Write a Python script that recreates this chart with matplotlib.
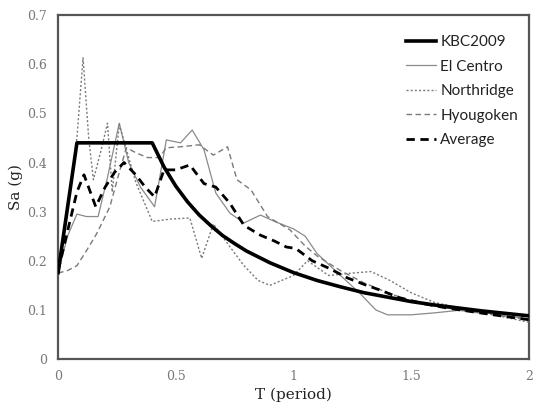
import matplotlib
matplotlib.use("Agg")
import matplotlib.pyplot as plt

# ---- data ----
kbc_T = [0.0, 0.08, 0.40, 0.45, 0.50, 0.55, 0.60, 0.65, 0.70, 0.75, 0.80, 0.90, 1.00,
         1.10, 1.20, 1.30, 1.40, 1.50, 1.60, 1.70, 1.80, 1.90, 2.00]
kbc_Sa = [0.176, 0.44, 0.44, 0.391, 0.352, 0.320, 0.293, 0.271, 0.251, 0.235, 0.220,
          0.196, 0.176, 0.160, 0.147, 0.135, 0.126, 0.117, 0.110, 0.104, 0.098, 0.093, 0.088]

elc_T = [0.0, 0.04, 0.08, 0.12, 0.17, 0.21, 0.26, 0.30, 0.35, 0.41, 0.46, 0.52, 0.57,
         0.62, 0.67, 0.73, 0.79, 0.86, 0.92, 1.00, 1.05, 1.10, 1.20, 1.28, 1.35, 1.40,
         1.50, 1.60, 1.70, 1.80, 1.90, 2.00]
elc_Sa = [0.175, 0.25, 0.295, 0.29, 0.29, 0.37, 0.48, 0.40, 0.35, 0.31, 0.446, 0.44, 0.466,
          0.426, 0.338, 0.297, 0.277, 0.293, 0.28, 0.265, 0.25, 0.215, 0.17, 0.135, 0.10,
          0.09, 0.09, 0.094, 0.099, 0.095, 0.088, 0.082]

nor_T = [0.0, 0.04, 0.08, 0.106, 0.13, 0.15, 0.18, 0.21, 0.23, 0.26, 0.33, 0.40, 0.48,
         0.56, 0.61, 0.66, 0.72, 0.79, 0.85, 0.90, 0.95, 1.00, 1.06, 1.15, 1.25, 1.33,
         1.41, 1.50, 1.60, 1.70, 1.80, 1.90, 2.00]
nor_Sa = [0.175, 0.30, 0.45, 0.613, 0.45, 0.365, 0.42, 0.48, 0.34, 0.477, 0.36, 0.28, 0.285,
          0.287, 0.205, 0.275, 0.235, 0.19, 0.16, 0.15, 0.16, 0.17, 0.20, 0.17, 0.175, 0.178,
          0.16, 0.135, 0.115, 0.105, 0.095, 0.085, 0.075]

hyo_T = [0.0, 0.04, 0.08, 0.12, 0.165, 0.22, 0.26, 0.29, 0.33, 0.38, 0.43, 0.46, 0.52,
         0.60, 0.66, 0.72, 0.76, 0.82, 0.89, 0.985, 1.05, 1.10, 1.20, 1.30, 1.40, 1.50,
         1.60, 1.70, 1.80, 1.90, 2.00]
hyo_Sa = [0.175, 0.18, 0.19, 0.22, 0.256, 0.31, 0.38, 0.43, 0.42, 0.41, 0.41, 0.43, 0.432,
          0.436, 0.415, 0.432, 0.365, 0.344, 0.29, 0.263, 0.23, 0.21, 0.18, 0.155, 0.135,
          0.118, 0.108, 0.10, 0.093, 0.087, 0.08]

avg_T = [0.0, 0.03, 0.06, 0.08, 0.11, 0.16, 0.20, 0.24, 0.28, 0.33, 0.37, 0.41, 0.45, 0.50,
         0.56, 0.62, 0.67, 0.73, 0.79, 0.86, 0.92, 0.97, 1.01, 1.08, 1.15, 1.23, 1.30, 1.37,
         1.45, 1.55, 1.65, 1.75, 1.85, 2.00]
avg_Sa = [0.18, 0.24, 0.30, 0.34, 0.375, 0.31, 0.35, 0.38, 0.40, 0.375, 0.35, 0.33, 0.385,
          0.385, 0.395, 0.357, 0.35, 0.317, 0.272, 0.252, 0.24, 0.228, 0.225, 0.20, 0.185,
          0.165, 0.152, 0.14, 0.125, 0.113, 0.104, 0.097, 0.09, 0.08]

x_ticks = [0, 0.5, 1, 1.5, 2]
x_tick_labels = ["0", "0.5", "1", "1.5", "2"]
y_ticks = [0, 0.1, 0.2, 0.3, 0.4, 0.5, 0.6, 0.7]
y_tick_labels = ["0", "0.1", "0.2", "0.3", "0.4", "0.5", "0.6", "0.7"]

# ---- figure ----
fig = plt.figure(figsize=(5.33, 4.08), dpi=100)
ax = fig.add_axes([0.109, 0.12, 0.883, 0.843])

ax.plot(kbc_T, kbc_Sa, color="black", lw=2.6, label="KBC2009", zorder=5)
ax.plot(elc_T, elc_Sa, color="#8a8a8a", lw=0.9, label="El Centro", zorder=3)
ax.plot(nor_T, nor_Sa, color="#7a7a7a", lw=1.0, linestyle=(0, (1.5, 1.5)),
        label="Northridge", zorder=3)
ax.plot(hyo_T, hyo_Sa, color="#7a7a7a", lw=1.0, linestyle=(0, (4, 2.5)),
        label="Hyougoken", zorder=3)
ax.plot(avg_T, avg_Sa, color="black", lw=2.0, linestyle=(0, (3, 2)),
        label="Average", zorder=4)

ax.set_xlim(0, 2)
ax.set_ylim(0, 0.7)
ax.set_xticks(x_ticks)
ax.set_xticklabels(x_tick_labels)
ax.set_yticks(y_ticks)
ax.set_yticklabels(y_tick_labels)
ax.tick_params(length=0, labelsize=9, labelcolor="#777777", pad=8)
for lab in ax.get_xticklabels() + ax.get_yticklabels():
    lab.set_family("DejaVu Serif")

for sp in ax.spines.values():
    sp.set_color("#555555")
    sp.set_linewidth(1.6)

ax.set_xlabel("T (period)", family="DejaVu Serif", fontsize=11, color="#222222", labelpad=3)
ax.set_ylabel("Sa (g)", family="DejaVu Serif", fontsize=11, color="#222222", labelpad=3)

leg = ax.legend(loc="upper right", frameon=False, handlelength=2.0,
                handletextpad=0.25, labelspacing=0.68, borderaxespad=0.3,
                bbox_to_anchor=(1.0, 0.972),
                prop={"family": "Lato", "size": 11})
for t in leg.get_texts():
    t.set_color("#222222")

fig.savefig("out.png", dpi=100)
